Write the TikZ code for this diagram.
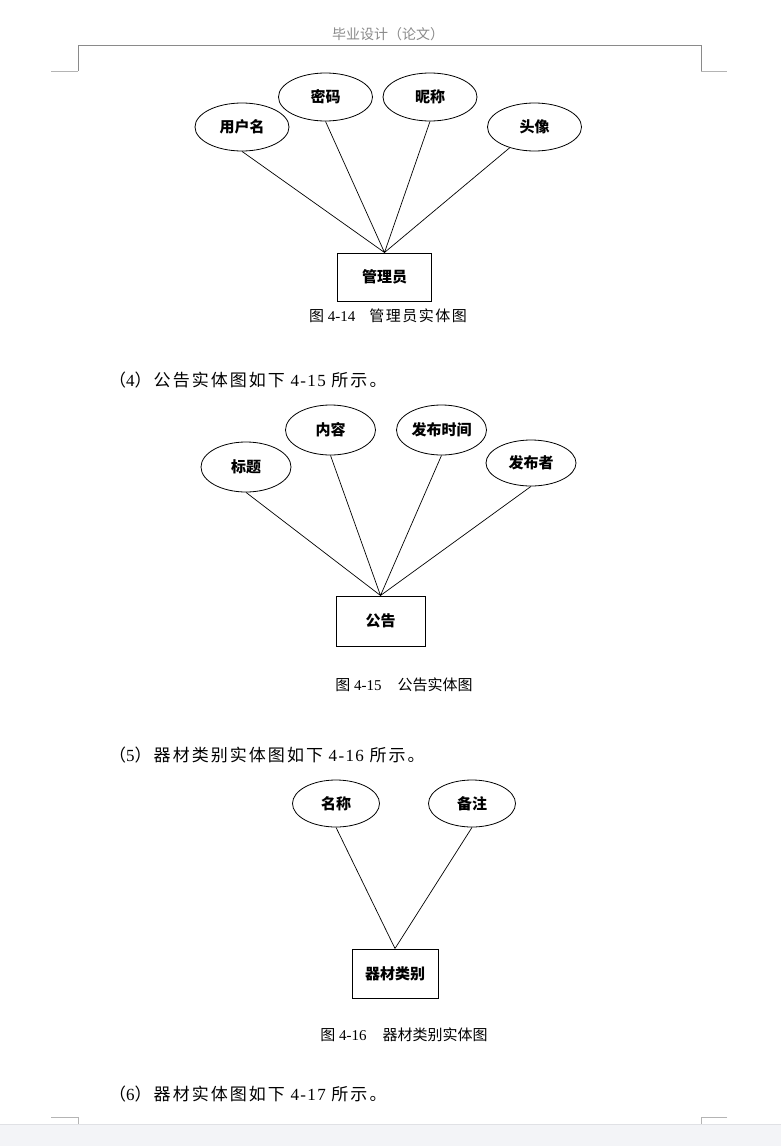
\documentclass[tikz,border=0pt]{standalone}
\usepackage{fontspec}
\setmainfont{Liberation Serif}
\newfontfamily\hei{Noto Sans CJK SC}
\newfontfamily\song{Noto Sans CJK SC}
\newfontfamily\songsp{Noto Sans CJK SC}[LetterSpace=12]
\usetikzlibrary{shapes.geometric}
\definecolor{pagegray}{HTML}{F3F4F7}
\definecolor{bandline}{HTML}{E0E1E5}
\definecolor{headgray}{HTML}{8A8A8A}
\definecolor{markgray}{HTML}{B4B4B4}

\begin{document}
\begin{tikzpicture}[x=1pt, y=-1pt,
    attr/.style = {ellipse, draw, line width=0.8pt, minimum width=94pt, minimum height=48pt, inner sep=0pt, font=\hei\bfseries\fontsize{15}{17}\selectfont},
    entity/.style = {rectangle, draw, line width=1pt, minimum width=94pt, minimum height=48pt, inner sep=0pt, font=\hei\bfseries\fontsize{15}{17}\selectfont},
    link/.style = {line width=0.7pt},
    caption/.style = {font=\fontsize{15}{17}\selectfont},
    para/.style = {anchor=west, inner sep=0pt, font=\fontsize{17}{19}\selectfont\addfontfeature{LetterSpace=8}}]
  \useasboundingbox (0,0) rectangle (781,1146);
  \fill[white] (0,0) rectangle (781,1146);
  \fill[pagegray] (0,1124) rectangle (781,1146);
  \draw[bandline] (0,1124) -- (781,1124);

  % page header
  \node[text=headgray, font=\song\fontsize{14}{16}\selectfont] (head) at (388,34) {毕业设计（论文）};
  \draw[headgray, line width=0.8pt] (78,71) -- (78,45) -- (701,45) -- (701,71);
  \draw[markgray, line width=0.6pt] (51,71) -- (78,71) (701,71) -- (727,71);
  \draw[markgray, line width=0.6pt] (51,1117) -- (78,1117) -- (78,1124)
                                    (727,1117) -- (701,1117) -- (701,1124);

  % 4-14
  \node[attr] (user) at (242,127) {用户名};
  \node[attr] (pwd) at (325.5,97) {密码};
  \node[attr] (nick) at (430,97) {昵称};
  \node[attr] (avatar) at (534.5,127) {头像};
  \node[entity] (admin) at (384.5,277) {管理员};
  \draw[link] (user.south) -- (admin.north)
              (pwd.south) -- (admin.north)
              (nick.south) -- (admin.north)
              (avatar) -- (admin.north);
  \node[caption] (cap1) at (388,316) {{\song\addfontfeature{LetterSpace=10}图} 4-14\hspace{14pt}{\song\addfontfeature{LetterSpace=10}管理员实体图}};

  \node[para] (p4) at (109,380) {{\songsp（}4{\songsp）公告实体图如下} 4-15 {\songsp 所示。}};

  % 4-15
  \node[attr, minimum width=90pt, minimum height=50pt] (title) at (246,467) {标题};
  \node[attr, minimum width=90pt, minimum height=50pt] (content) at (330.5,430) {内容};
  \node[attr, minimum width=90pt, minimum height=50pt] (time) at (441.5,430) {发布时间};
  \node[attr, minimum width=90pt, minimum height=46pt] (author) at (531,463) {发布者};
  \node[entity, minimum width=89pt, minimum height=50pt] (notice) at (380.5,621) {公告};
  \draw[link] (title.south) -- (notice.north)
              (content.south) -- (notice.north)
              (time.south) -- (notice.north)
              (author.south) -- (notice.north);
  \node[caption] (cap2) at (404,685) {{\song 图} 4-15\hspace{16pt}{\song 公告实体图}};

  \node[para] (p5) at (109,755) {{\songsp（}5{\songsp）器材类别实体图如下} 4-16 {\songsp 所示。}};

  % 4-16
  \node[attr, minimum width=87pt, minimum height=47pt] (name) at (336,803.5) {名称};
  \node[attr, minimum width=87pt, minimum height=47pt] (note) at (472,803.5) {备注};
  \node[entity, minimum width=86pt, minimum height=49pt] (category) at (395,973.5) {器材类别};
  \draw[link] (name.south) -- (category.north)
              (note.south) -- (category.north);
  \node[caption] (cap3) at (404,1035) {{\song 图} 4-16\hspace{16pt}{\song 器材类别实体图}};

  \node[para] (p6) at (109,1094) {{\songsp（}6{\songsp）器材实体图如下} 4-17 {\songsp 所示。}};
\end{tikzpicture}
\end{document}
